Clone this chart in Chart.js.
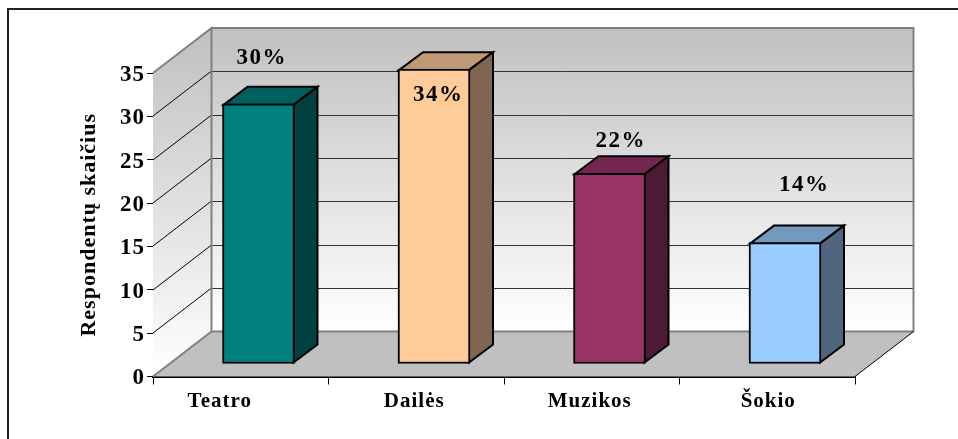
<!DOCTYPE html>
<html><head><meta charset="utf-8">
<style>html,body{margin:0;padding:0;background:#fff}canvas{display:block}</style>
<script src="https://cdn.jsdelivr.net/npm/chart.js@4"></script>
</head><body><canvas id="c" width="958" height="439"></canvas>
<script>
const categories = ['Teatro', 'Dailės', 'Muzikos', 'Šokio'];
const respondents = [30, 34, 22, 14];
const percentLabels = ['30%', '34%', '22%', '14%'];
const frontColors = ['#008080', '#FFCC99', '#993366', '#99CCFF'];
const topColors = ['#006060', '#BF9973', '#732650', '#7399BF'];
const sideColors = ['#004040', '#806650', '#4D1A33', '#4F6580'];
const yTicks = [0, 5, 10, 15, 20, 25, 30, 35];
const axisTitle = 'Respondentų skaičius';

const DEPTH = {x: 58.5, y: -45};
const BAR_SHIFT = {x: 17.75, y: -12.5};
const BAR_DEPTH = {x: 24, y: -18};
const labelOffsets = [[21,-58],[22,13],[29,-45],[37,-70]];
const catLabelShift = [-21,-2,-2,1];

const scene = {
  id: 'scene',
  afterLayout(chart) {
    chart.scales.x.getLabelItems().forEach((it, i) => { it.options.translation[0] += catLabelShift[i]; });
    chart.scales.y.getLabelItems().forEach(it => { it.options.translation[1] += 2; });
  },
  beforeDraw(chart) {
    const ctx = chart.ctx;
    ctx.save();
    ctx.strokeStyle = '#222'; ctx.lineWidth = 2;
    ctx.beginPath(); ctx.moveTo(8, 439); ctx.lineTo(8, 9); ctx.lineTo(958, 9); ctx.stroke();
    ctx.restore();
    ctx.letterSpacing = '1px';
  },
  beforeDatasetsDraw(chart) {
    const {ctx, chartArea: a, scales: {y}} = chart;
    const L = a.left, R = a.right, T = y.getPixelForValue(35), B = y.getPixelForValue(0);
    const dx = DEPTH.x, dy = DEPTH.y;
    ctx.save();
    const g = ctx.createLinearGradient(0, T + dy, 0, B + dy);
    g.addColorStop(0, '#C0C0C0'); g.addColorStop(1, '#FFFFFF');
    ctx.fillStyle = g;
    ctx.fillRect(L + dx, T + dy, R - L, B - T);
    const g2 = ctx.createLinearGradient(0, T + dy, 0, B);
    g2.addColorStop(0, '#C0C0C0'); g2.addColorStop(1, '#FFFFFF');
    ctx.fillStyle = g2;
    ctx.beginPath(); ctx.moveTo(L, T); ctx.lineTo(L + dx, T + dy); ctx.lineTo(L + dx, B + dy); ctx.lineTo(L, B); ctx.closePath(); ctx.fill();
    ctx.fillStyle = '#C0C0C0';
    ctx.beginPath(); ctx.moveTo(L, B); ctx.lineTo(L + dx, B + dy); ctx.lineTo(R + dx, B + dy); ctx.lineTo(R, B); ctx.closePath(); ctx.fill();
    yTicks.slice(1, -1).forEach(v => {
      const p = Math.round(y.getPixelForValue(v));
      ctx.strokeStyle = '#000'; ctx.lineWidth = 1;
      ctx.beginPath(); ctx.moveTo(L, p); ctx.lineTo(L + dx, p + dy); ctx.stroke();
      ctx.strokeStyle = '#333'; ctx.lineWidth = 1;
      ctx.beginPath(); ctx.moveTo(L + dx, p + dy + .5); ctx.lineTo(R + dx, p + dy + .5); ctx.stroke();
    });
    ctx.strokeStyle = '#808080'; ctx.lineWidth = 2;
    ctx.beginPath();
    ctx.moveTo(L, B); ctx.lineTo(L + dx, B + dy); ctx.lineTo(L + dx, T + dy); ctx.lineTo(L, T);
    ctx.moveTo(L + dx, T + dy); ctx.lineTo(R + dx, T + dy); ctx.lineTo(R + dx, B + dy); ctx.lineTo(L + dx, B + dy);
    ctx.stroke();
    ctx.strokeStyle = '#000'; ctx.lineWidth = 1;
    ctx.beginPath(); ctx.moveTo(R, B); ctx.lineTo(R + dx, B + dy); ctx.stroke();
    ctx.restore();
  },
  beforeDatasetDraw(chart) {
    const ctx = chart.ctx;
    const meta = chart.getDatasetMeta(0);
    ctx.save();
    ctx.translate(BAR_SHIFT.x, BAR_SHIFT.y);
    ctx.lineWidth = 2; ctx.strokeStyle = '#000'; ctx.lineJoin = 'miter';
    meta.data.forEach((bar, i) => {
      const l = bar.x - bar.width / 2 + 1, r = bar.x + bar.width / 2 - 1, t = bar.y + 1, b = bar.base - 1;
      const ddx = BAR_DEPTH.x, ddy = BAR_DEPTH.y;
      ctx.fillStyle = topColors[i];
      ctx.beginPath(); ctx.moveTo(l, t); ctx.lineTo(l + ddx, t + ddy); ctx.lineTo(r + ddx, t + ddy); ctx.lineTo(r, t); ctx.closePath(); ctx.fill(); ctx.stroke();
      ctx.fillStyle = sideColors[i];
      ctx.beginPath(); ctx.moveTo(r, t); ctx.lineTo(r + ddx, t + ddy); ctx.lineTo(r + ddx, b + ddy); ctx.lineTo(r, b); ctx.closePath(); ctx.fill(); ctx.stroke();
    });
  },
  afterDatasetDraw(chart) {
    chart.ctx.restore();
  },
  afterDatasetsDraw(chart) {
    const ctx = chart.ctx;
    const meta = chart.getDatasetMeta(0);
    ctx.save();
    ctx.font = 'bold 23px "Liberation Serif"';
    ctx.letterSpacing = '1.5px';
    ctx.fillStyle = '#000'; ctx.textAlign = 'center'; ctx.textBaseline = 'middle';
    meta.data.forEach((bar, i) => {
      ctx.fillText(percentLabels[i], bar.x + labelOffsets[i][0], bar.y + labelOffsets[i][1]);
    });
    ctx.restore();
  }
};

new Chart(document.getElementById('c'), {
  type: 'bar',
  data: {
    labels: categories,
    datasets: [{
      data: respondents,
      backgroundColor: frontColors,
      borderColor: '#000',
      borderWidth: 2,
      borderSkipped: false,
      barThickness: 72,
      clip: false
    }]
  },
  options: {
    responsive: false,
    animation: false,
    events: [],
    layout: {padding: {left: 0, top: 73, right: 103, bottom: 0}},
    plugins: {legend: {display: false}, tooltip: {enabled: false}},
    scales: {
      x: {
        afterFit(s) { s.height = 62.5; },
        offset: true,
        border: {color: '#000', width: 2},
        grid: {offset: true, drawOnChartArea: false, color: '#000', tickLength: 8, tickWidth: 1},
        ticks: {color: '#000', font: {family: '"Liberation Serif"', size: 21, weight: 'bold'}, padding: 4, maxRotation: 0, autoSkip: false}
      },
      y: {
        afterFit(s) { s.width = 153; },
        min: 0, max: 35,
        afterBuildTicks(s) { s.ticks = yTicks.map(v => ({value: v})); },
        border: {color: '#000', width: 1},
        grid: {drawOnChartArea: false, color: '#000', tickLength: 6},
        ticks: {color: '#000', font: {family: '"Liberation Serif"', size: 23, weight: 'bold'}, padding: 2},
        title: {display: true, text: axisTitle, color: '#000', font: {family: '"Liberation Serif"', size: 22, weight: 'bold'}, padding: {top: 76, bottom: 0}}
      }
    }
  },
  plugins: [scene]
});
</script></body></html>
